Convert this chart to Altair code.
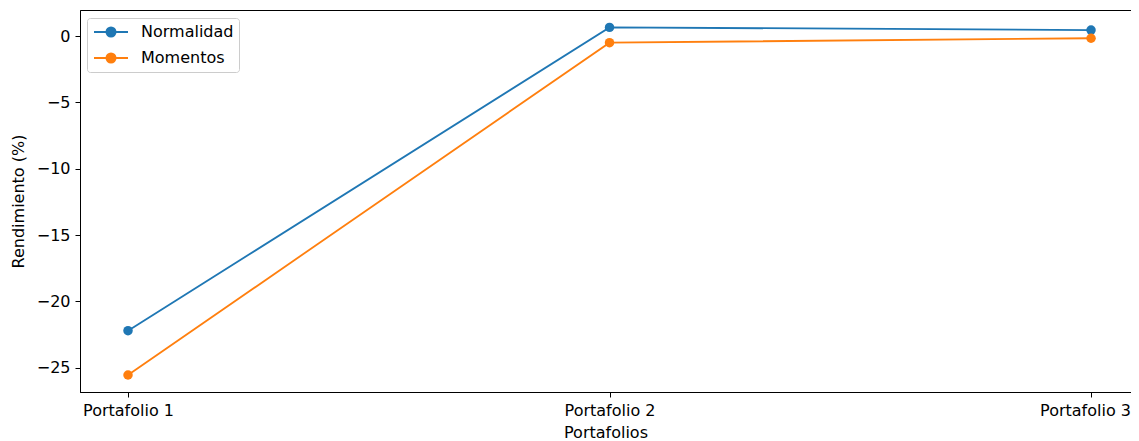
import altair as alt
import pandas as pd

categories = ["Portafolio 1", "Portafolio 2", "Portafolio 3"]
normalidad = [-22.21, 0.65, 0.45]
momentos = [-25.55, -0.50, -0.17]
series_names = ["Normalidad", "Momentos"]
colors = ["#1f77b4", "#ff7f0e"]

rows = []
for name, vals in zip(series_names, [normalidad, momentos]):
    for i, (c, v) in enumerate(zip(categories, vals)):
        rows.append({"idx": i, "cat": c, "serie": name, "val": v})
df = pd.DataFrame(rows)

FONT = "DejaVu Sans"
FS = 16

color = alt.Color(
    "serie:N",
    scale=alt.Scale(domain=series_names, range=colors),
    legend=alt.Legend(
        title=None,
        orient="none",
        legendX=7,
        legendY=8,
        symbolType="M-0.875,0H3.375M0.675,0a0.575,0.575 0 1,0 1.15,0a0.575,0.575 0 1,0 -1.15,0",
        symbolSize=256,
        symbolStrokeWidth=1.8,
        labelFont=FONT,
        labelFontSize=FS,
        labelColor="black",
        fillColor="white",
        strokeColor="#cccccc",
        cornerRadius=3,
        padding=5,
        rowPadding=8,
        labelOffset=31,
    ),
)

x = alt.X(
    "idx:Q",
    scale=alt.Scale(domain=[-0.0997, 2.083], nice=False, zero=False),
    axis=alt.Axis(
        values=[0, 1, 2],
        labelExpr="'Portafolio ' + (datum.value + 1)",
        labelOffset={"condition": {"test": "datum.value == 2", "value": -6}, "value": 0},
        title="Portafolios",
        grid=False,
    ),
)
y = alt.Y(
    "val:Q",
    scale=alt.Scale(domain=[-26.83, 1.96], nice=False, zero=False),
    axis=alt.Axis(
        values=[-25, -20, -15, -10, -5, 0],
        labelExpr="replace(format(datum.value, 'd'), '-', '\u2212')",
        title="Rendimiento (%)",
        grid=False,
    ),
)

base = alt.Chart(df)
line = base.mark_line(strokeWidth=1.8).encode(x=x, y=y, color=color, detail="serie:N")
pts = base.mark_point(filled=True, size=90, opacity=1).encode(x=x, y=y, color=color)

chart = (
    alt.layer(pts, line)
    .properties(
        width=1051,
        height=382,
        autosize=alt.AutoSizeParams(type="none"),
        padding={"left": 72, "top": 2, "right": 0, "bottom": 48},
    )
    .configure_view(stroke="black", strokeWidth=1)
    .configure_axis(
        labelFont=FONT,
        titleFont=FONT,
        labelFontSize=FS,
        titleFontSize=FS,
        titleFontWeight="normal",
        labelColor="black",
        titleColor="black",
        domainColor="black",
        tickColor="black",
        tickSize=5,
        labelPadding=5,
    )
    .configure_axisX(titlePadding=6)
    .configure_axisY(titlePadding=10)
)

chart.save("out.html", embed_options={"renderer": "svg", "actions": False})
